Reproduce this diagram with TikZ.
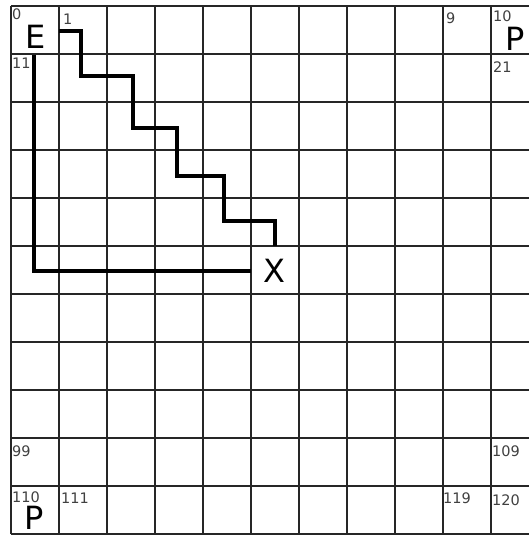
\documentclass[tikz,border=0pt]{standalone}
\usepackage{fontspec}
\setmainfont{DejaVu Sans}
\begin{document}
\begin{tikzpicture}[x=1pt,y=-1pt,
  gridline/.style={line width=1.6pt,draw=black!85},
  pathline/.style={line width=3.2pt,draw=black,line join=miter},
  cellnum/.style={anchor=base west,inner sep=0pt,text=black!75,font=\fontsize{14.5}{14.5}\selectfont},
  bigletter/.style={anchor=base west,inner sep=0pt,text=black,font=\fontsize{32}{32}\selectfont}]
\useasboundingbox (0,0) rectangle (529,536);
\clip (0,0) rectangle (529,536);
% grid
\foreach \i in {0,...,11} {
  \draw[gridline] ({11+48*\i},6) -- ({11+48*\i},534);
  \draw[gridline] (11,{6+48*\i}) -- (539,{6+48*\i});
}
% cell numbers
\node[cellnum] (n0) at (12,19) {0};
\node[cellnum] (n1) at (63,24) {1};
\node[cellnum] (n9) at (446,23) {9};
\node[cellnum] (n10) at (493,21) {10};
\node[cellnum] (n11) at (12,68) {11};
\node[cellnum] (n21) at (493,72) {21};
\node[cellnum] (n99) at (12,456) {99};
\node[cellnum] (n109) at (492,456) {109};
\node[cellnum] (n110) at (12,502) {110};
\node[cellnum] (n111) at (61,503) {111};
\node[cellnum] (n119) at (443,503) {119};
\node[cellnum] (n120) at (492,505) {120};
% big letters
\node[bigletter] (E) at (25,48) {E};
\node[bigletter] (P1) at (505,50) {P};
\node[bigletter] (X) at (263,282) {X};
\node[bigletter] (P2) at (24,529) {P};
% paths
\coordinate (s0) at (59,31);
\coordinate (s1) at (81,31);
\coordinate (s2) at (81,76);
\coordinate (s3) at (133,76);
\coordinate (s4) at (133,128);
\coordinate (s5) at (177,128);
\coordinate (s6) at (177,176);
\coordinate (s7) at (224,176);
\coordinate (s8) at (224,221);
\coordinate (s9) at (275,221);
\coordinate (s10) at (275,246);
\draw[pathline] (s0) -- (s1) -- (s2) -- (s3) -- (s4) -- (s5) -- (s6) -- (s7) -- (s8) -- (s9) -- (s10);
\coordinate (l0) at (34,55);
\coordinate (l1) at (34,271);
\coordinate (l2) at (251,271);
\draw[pathline] (l0) -- (l1) -- (l2);
\end{tikzpicture}
\end{document}
